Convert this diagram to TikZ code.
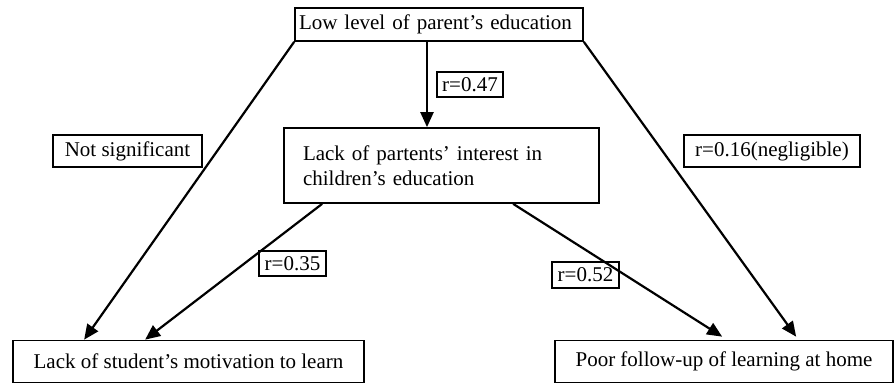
\documentclass[tikz,border=0pt]{standalone}
\usepackage{fontspec}
\setmainfont{Liberation Serif}
\usetikzlibrary{arrows.meta}

\begin{document}
\begin{tikzpicture}[x=1pt, y=-1pt]
\tikzset{boite/.style={draw, line width=1.7pt, rectangle, inner ysep=0pt, font=\fontsize{21}{25}\selectfont},
etiq/.style={boite, inner xsep=2pt},
fleche/.style={line width=2.2pt, -{Triangle[length=15pt, width=13pt]}}}
\useasboundingbox (0, 0) rectangle (895, 383);
\node[boite, text width=280pt, inner xsep=4pt, align=left, minimum height=33pt] (Par) at (439, 24.5) {Low level of parent's education};
\node[boite, text width=277pt, inner xsep=19pt, align=left, minimum height=75pt] (Int) at (441.5, 165.5) {Lack of partents' interest in\\children's education};
\node[boite, minimum width=351pt, minimum height=42pt] (Mot) at (188.5, 361.5) {Lack of student's motivation to learn};
\node[boite, minimum width=338pt, minimum height=42pt] (Home) at (724, 361.5) {Poor follow-up of learning at home};
\node[etiq, minimum width=66pt, minimum height=25pt] (L47) at (470, 84.5) {r=0.47};
\node[etiq, minimum width=149pt, minimum height=32pt] (LNS) at (127.5, 151) {Not significant};
\node[etiq, minimum width=176pt, minimum height=32pt] (L16) at (772, 151) {r=0.16(negligible)};
\node[etiq, minimum width=67pt, minimum height=25pt] (L35) at (292.5, 263.5) {r=0.35};
\node[etiq, minimum width=67pt, minimum height=26pt] (L52) at (585.5, 275) {r=0.52};
\draw[fleche] (Par.south west) -- ([xshift=72pt]Mot.north west);
\draw[fleche] ([xshift=-12pt]Par.south) -- ([xshift=-12pt]Par.south |- Int.north);
\draw[fleche] ([xshift=39pt]Int.south west) -- ([xshift=133pt]Mot.north west);
\draw[fleche] ([xshift=230pt]Int.south west) -- ([xshift=168pt, yshift=3pt]Home.north west);
\draw[fleche] (Par.south east) -- ([xshift=242pt, yshift=3pt]Home.north west);
\end{tikzpicture}
\end{document}
